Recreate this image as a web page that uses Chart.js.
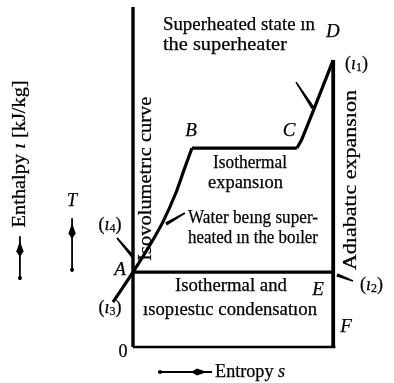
<!DOCTYPE html>
<html>
<head>
<meta charset="utf-8">
<script src="https://cdn.jsdelivr.net/npm/chart.js@4.4.0/dist/chart.umd.min.js"></script>
<style>
  html, body { margin: 0; padding: 0; background: #fff; }
  canvas { display: block; }
</style>
</head>
<body>
<canvas id="cycle" width="394" height="383"></canvas>
<script>
// Rankine steam cycle sketched on the T-s plane (schematic units, no scale)

// feed water heated up to boiling: (i3) -> A -> B
const liquidS = [-0.91, 0, 0.77, 1.36, 1.91, 2.32, 2.68];
const liquidT = [1.32, 2.2, 3.0, 3.68, 4.47, 5.21, 5.85];
// evaporation at constant temperature: B -> C
const boilS = [2.68, 7.45];
const boilT = [5.85, 5.85];
// superheater: C -> D
const superS = [7.45, 7.68, 9.1];
const superT = [5.85, 6.12, 8.44];
// adiabatic expansion in the engine: D -> E -> F
const expandS = [9.1, 9.1];
const expandT = [8.44, 0];
// condensation: A -> E
const condS = [0, 9.1];
const condT = [2.2, 2.2];
// axes
const axisS = [0, 9.2];
const axisT = [0, 10];

const FONT = "'Liberation Serif', 'Times New Roman', serif";

const pts = (xs, ys) => xs.map((x, i) => ({ x: x, y: ys[i] }));

function line(xs, ys, width, extra) {
  return Object.assign({
    data: pts(xs, ys),
    showLine: true,
    borderColor: '#000',
    borderWidth: width,
    pointRadius: 0,
    fill: false,
    clip: false
  }, extra || {});
}

// text blocks, placed in (s, T) units; w = fitted width in px
const notes = [
  { runs: [{ text: 'Superheated state ın' }], s: 1.36, t: 9.47, align: 'left', w: 152 },
  { runs: [{ text: 'the superheater' }], s: 1.36, t: 8.88, align: 'left', w: 124 },
  { runs: [{ text: 'Isothermal' }], s: 5.32, t: 5.41, w: 74 },
  { runs: [{ text: 'expansıon' }], s: 5.11, t: 4.82, w: 75 },
  { runs: [{ text: 'Water beıng super-' }], s: 2.5, t: 3.79, align: 'left', w: 130 },
  { runs: [{ text: 'heated ın the boıler' }], s: 2.5, t: 3.21, align: 'left', w: 130 },
  { runs: [{ text: 'Isothermal and' }], s: 4.45, t: 1.79, w: 112 },
  { runs: [{ text: 'ısopıestıc condensatıon' }], s: 4.41, t: 1.09, w: 174 },
  { runs: [{ text: 'Entropy ' }, { text: 's', italic: true }], s: 3.73, t: -0.735, align: 'left', w: 70 },
  { runs: [{ text: 'Isovolumetrıc curve' }], s: 0.62, t: 4.95, w: 164, rot: true },
  { runs: [{ text: 'Adıabatıc expansıon' }], s: 9.91, t: 4.91, w: 180, rot: true },
  { runs: [{ text: 'Enthalpy ' }, { text: 'ı', italic: true }, { text: ' [kJ/kg]' }], s: -5.14, t: 5.68, w: 147, rot: true },
  { runs: [{ text: '0' }], s: -0.45, t: -0.15 },
  // state letters
  { runs: [{ text: 'A', italic: true }], s: -0.59, t: 2.26, size: 19 },
  { runs: [{ text: 'B', italic: true }], s: 2.64, t: 6.35, size: 19 },
  { runs: [{ text: 'C', italic: true }], s: 7.09, t: 6.35, size: 19 },
  { runs: [{ text: 'D', italic: true }], s: 9.09, t: 9.26, size: 19 },
  { runs: [{ text: 'E', italic: true }], s: 8.41, t: 1.68, size: 19 },
  { runs: [{ text: 'F', italic: true }], s: 9.68, t: 0.59, size: 19 },
  { runs: [{ text: 'T', italic: true }], s: -2.77, t: 4.3, size: 18 }
];

// enthalpy markers (i1)..(i4)
const enthalpyTags = [
  { n: '1', s: 9.64, t: 8.32, align: 'left' },
  { n: '2', s: 10.32, t: 1.82, align: 'left' },
  { n: '3', s: -1.05, t: 1.15 },
  { n: '4', s: -1.05, t: 3.59 }
];

// pointer strokes from labels to the curve (tapered: thin end first)
const leaders = [
  [7.41, 7.79, 8.18, 7.03],
  [2.36, 3.94, 1.5, 3.62],
  [-0.73, 3.21, 0, 2.65],
  [10.0, 1.94, 9.27, 2.12]
];

// direction arrows beside the axis titles
const arrows = [
  [1.14, -0.735, 3.59, -0.735],
  [-5.14, 1.97, -5.14, 3.26],
  [-2.77, 2.21, -2.77, 3.79]
];

function drawRuns(ctx, runs, x, y, size, align, width, rot) {
  ctx.save();
  ctx.translate(x, y);
  if (rot) ctx.rotate(-Math.PI / 2);
  const fonts = runs.map(r => (r.italic ? 'italic ' : '') + (r.size || size) + 'px ' + FONT);
  let total = 0;
  runs.forEach((r, i) => { ctx.font = fonts[i]; total += ctx.measureText(r.text).width; });
  const k = width ? width / total : 1;
  ctx.scale(k, 1);
  ctx.textBaseline = 'middle';
  ctx.textAlign = 'left';
  ctx.fillStyle = '#000';
  ctx.strokeStyle = '#000';
  ctx.lineWidth = 0.25;
  let cx = align === 'left' ? 0 : -total / 2;
  runs.forEach((r, i) => {
    ctx.font = fonts[i];
    ctx.fillText(r.text, cx, r.dy || 0);
    ctx.strokeText(r.text, cx, r.dy || 0);
    cx += ctx.measureText(r.text).width;
  });
  ctx.restore();
}

const annotate = {
  id: 'annotate',
  afterDatasetsDraw(chart) {
    const ctx = chart.ctx;
    const xs = chart.scales.x, ys = chart.scales.y;
    const X = v => xs.getPixelForValue(v);
    const Y = v => ys.getPixelForValue(v);

    notes.forEach(n => {
      drawRuns(ctx, n.runs, X(n.s), Y(n.t), n.size || 18, n.align, n.w, n.rot);
    });

    enthalpyTags.forEach(g => {
      const runs = [{ text: '(' }, { text: 'ı', italic: true }, { text: g.n, size: 12, dy: 4 }, { text: ')' }];
      drawRuns(ctx, runs, X(g.s), Y(g.t), 18, g.align);
    });

    ctx.save();
    ctx.fillStyle = '#000';
    ctx.strokeStyle = '#000';
    leaders.forEach(l => {
      const x0 = X(l[0]), y0 = Y(l[1]), x1 = X(l[2]), y1 = Y(l[3]);
      const len = Math.hypot(x1 - x0, y1 - y0);
      const nx = -(y1 - y0) / len, ny = (x1 - x0) / len;
      ctx.beginPath();
      ctx.moveTo(x0 + nx * 0.8, y0 + ny * 0.8);
      ctx.lineTo(x1 + nx * 1.7, y1 + ny * 1.7);
      ctx.lineTo(x1 - nx * 1.7, y1 - ny * 1.7);
      ctx.lineTo(x0 - nx * 0.8, y0 - ny * 0.8);
      ctx.closePath();
      ctx.fill();
    });

    arrows.forEach(a => {
      const x0 = X(a[0]), y0 = Y(a[1]), x1 = X(a[2]), y1 = Y(a[3]);
      const len = Math.hypot(x1 - x0, y1 - y0);
      const ux = (x1 - x0) / len, uy = (y1 - y0) / len;
      ctx.lineWidth = 1.8;
      ctx.beginPath();
      ctx.moveTo(x0, y0);
      ctx.lineTo(x1, y1);
      ctx.stroke();
      // dot at the tail
      ctx.beginPath();
      ctx.arc(x0 + ux * 2, y0 + uy * 2, 2, 0, Math.PI * 2);
      ctx.fill();
      // lozenge head near the tip
      const tip = 5, back = 21, half = 3.6;
      const hx = x1 - ux * tip, hy = y1 - uy * tip;
      const bx = x1 - ux * back, by = y1 - uy * back;
      const mx = x1 - ux * (back - 6), my = y1 - uy * (back - 6);
      ctx.beginPath();
      ctx.moveTo(hx, hy);
      ctx.lineTo(mx - uy * half, my + ux * half);
      ctx.lineTo(bx, by);
      ctx.lineTo(mx + uy * half, my - ux * half);
      ctx.closePath();
      ctx.fill();
    });
    ctx.restore();
  }
};

new Chart(document.getElementById('cycle'), {
  type: 'scatter',
  data: {
    datasets: [
      line([0, 0], axisT, 3.4),
      line(axisS, [0, 0], 2.6),
      line(condS, condT, 3.2),
      line(liquidS, liquidT, 3.2, { tension: 0.35 }),
      line(boilS, boilT, 3.2),
      line(superS, superT, 3.2, { tension: 0.3 }),
      line(expandS, expandT, 3.8)
    ]
  },
  options: {
    responsive: false,
    animation: false,
    events: [],
    layout: { padding: { left: 111, right: 41, top: 7, bottom: 36 } },
    scales: {
      x: { type: 'linear', min: -1, max: 10, display: false },
      y: { type: 'linear', min: 0, max: 10, display: false }
    },
    plugins: {
      legend: { display: false },
      tooltip: { enabled: false }
    }
  },
  plugins: [annotate]
});
</script>
</body>
</html>
